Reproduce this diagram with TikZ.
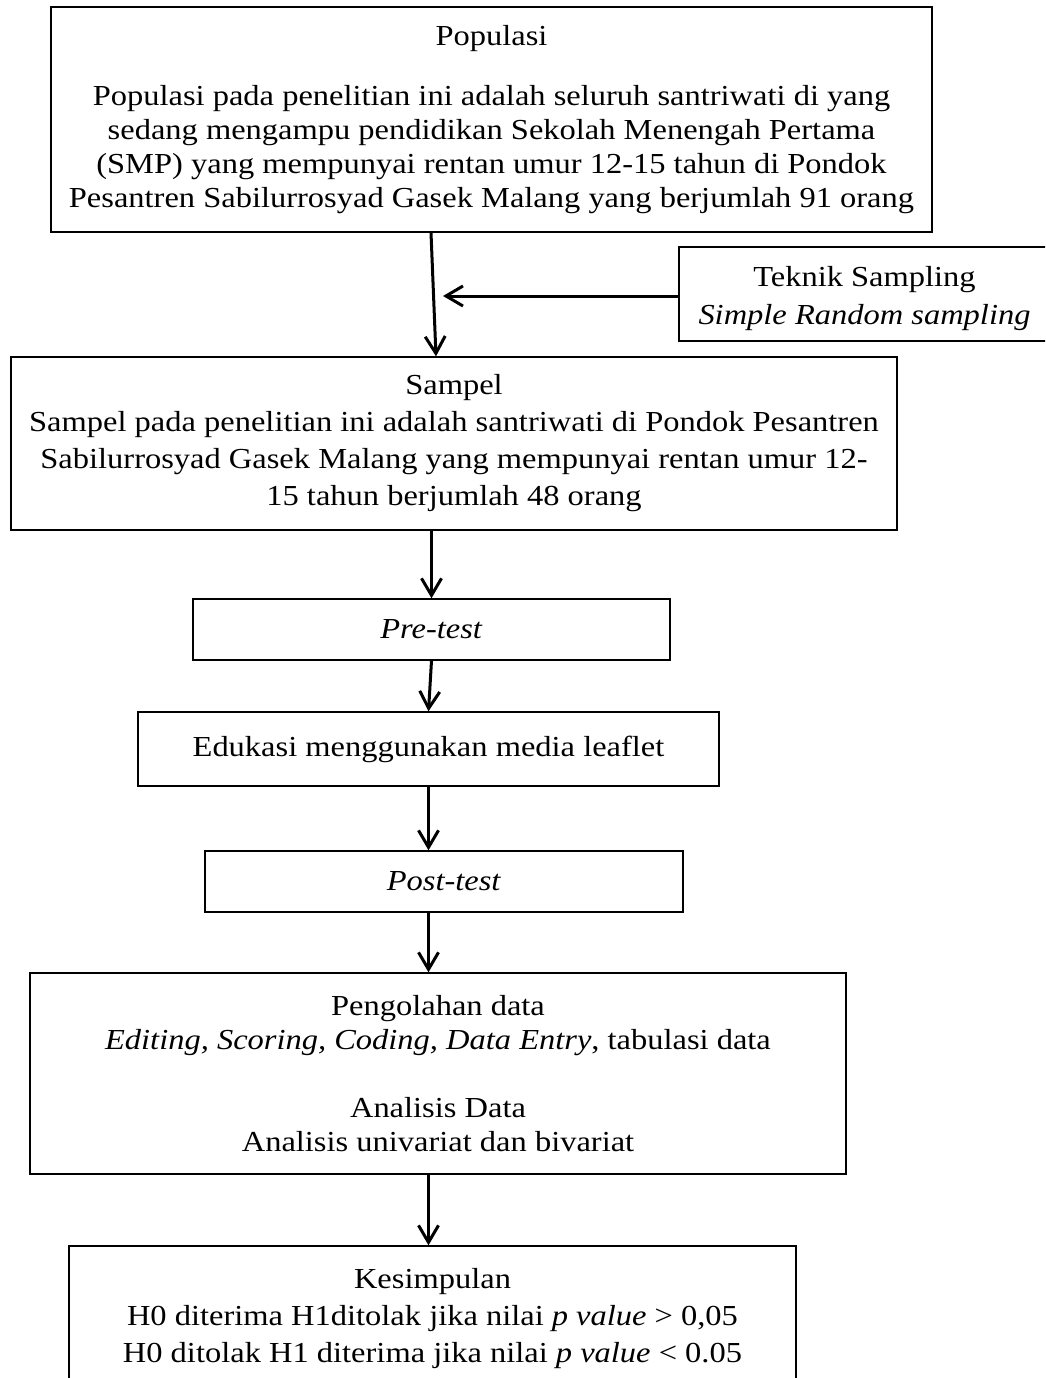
\documentclass[tikz,border=0pt]{standalone}
\usepackage{fontspec}
\setmainfont{Liberation Serif}[FakeStretch=1.12]
\usetikzlibrary{arrows.meta,calc}
\begin{document}
\begin{tikzpicture}[x=1pt,y=-1pt]
\tikzset{
  box/.style={draw=black, line width=1.4pt, align=center, inner sep=0pt, font=\fontsize{29}{34}\selectfont},
  widebox/.style={box, font=\fontsize{29}{37}\selectfont},
  conn/.style={line width=3pt, -{Straight Barb[length=17pt,width=20pt]}},
}
\useasboundingbox (0,0) rectangle (1045,1378);
\clip (0,0) rectangle (1045,1378);

\node[box, minimum width=881pt, minimum height=225pt] (pop) at (491.5,119.5)
 {Populasi\\[26pt]
  Populasi pada penelitian ini adalah seluruh santriwati di yang\\
  sedang mengampu pendidikan Sekolah Menengah Pertama\\
  (SMP) yang mempunyai rentan umur 12-15 tahun di Pondok\\
  Pesantren Sabilurrosyad Gasek Malang yang berjumlah 91 orang};

\node[widebox, font=\fontsize{29}{38}\selectfont, minimum width=371pt, minimum height=94pt] (tek) at (864.5,294)
 {\rule{0pt}{30pt}Teknik Sampling\\ \textit{Simple Random sampling}};

\node[widebox, minimum width=886pt, minimum height=173pt] (samp) at (454,443.5)
 {Sampel\\
  Sampel pada penelitian ini adalah santriwati di Pondok Pesantren\\
  Sabilurrosyad Gasek Malang yang mempunyai rentan umur 12-\\
  15 tahun berjumlah 48 orang};

\node[box, minimum width=477pt, minimum height=61pt] (pre) at (431.5,629.5) {\textit{Pre-test}};
\node[box, minimum width=581pt, minimum height=74pt] (edu) at (428.5,749) {Edukasi menggunakan media leaflet};
\node[box, minimum width=478pt, minimum height=61pt] (post) at (444,881.5) {\textit{Post-test}};

\node[box, minimum width=816pt, minimum height=201pt] (peng) at (438,1073.5)
 {Pengolahan data\\
  \textit{Editing, Scoring, Coding, Data Entry}, tabulasi data\\[34pt]
  Analisis Data\\
  Analisis univariat dan bivariat};

\node[widebox, minimum width=727pt, minimum height=135pt] (kes) at (432.5,1313.5)
 {\rule{0pt}{30pt}Kesimpulan\\
  H0 diterima H1ditolak jika nilai \textit{p value} > 0,05\\
  H0 ditolak H1 diterima jika nilai \textit{p value} < 0.05};

\coordinate (tip) at (443,292);

\draw[conn] ([xshift=-60.5pt]pop.south) -- ([xshift=-18pt]samp.north);
\draw[conn] ([yshift=-2pt]tek.west) -- ([yshift=-2pt]tek.west -| tip);
\draw[conn] (samp.south -| pre.north) -- (pre.north);
\draw[conn] (pre.south) -- (edu.north);
\draw[conn] (edu.south) -- (edu.south |- post.north);
\draw[conn] (post.south -| edu.south) -- (edu.south |- peng.north);
\draw[conn] (edu.south |- peng.south) -- (edu.south |- kes.north);
\end{tikzpicture}
\end{document}
